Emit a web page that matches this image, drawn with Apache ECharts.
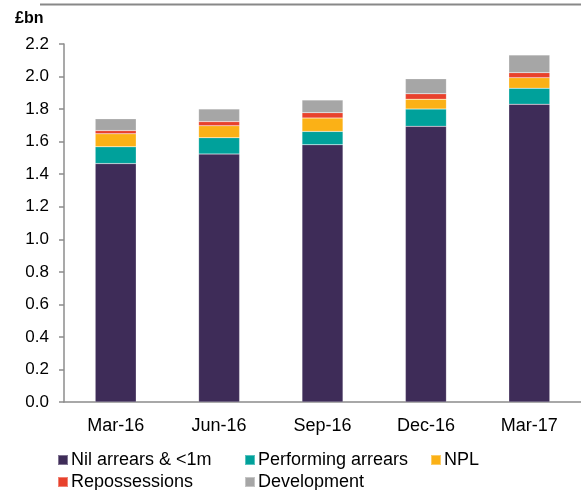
<!DOCTYPE html>
<html>
<head>
<meta charset="utf-8">
<script src="https://cdn.jsdelivr.net/npm/echarts@6/dist/echarts.min.js"></script>
<style>
  html, body { margin: 0; padding: 0; background: #fff; }
  #chart { width: 581px; height: 490px; }
</style>
</head>
<body>
<div id="chart"></div>
<script>
// Quarter-end dates
const categories = ['Mar-16', 'Jun-16', 'Sep-16', 'Dec-16', 'Mar-17'];

// Loan book by arrears status, £bn
const nilArrears   = [1.465, 1.524, 1.581, 1.694, 1.830];
const performing   = [0.103, 0.100, 0.082, 0.106, 0.098];
const npl          = [0.080, 0.074, 0.082, 0.061, 0.065];
const repossession = [0.020, 0.025, 0.033, 0.033, 0.031];
const development  = [0.072, 0.078, 0.078, 0.092, 0.109];

const yTicks = [0, 0.2, 0.4, 0.6, 0.8, 1.0, 1.2, 1.4, 1.6, 1.8, 2.0, 2.2];

const seriesDefs = [
  { name: 'Nil arrears & <1m', data: nilArrears, color: '#3e2c58' },
  { name: 'Performing arrears', data: performing, color: '#00a19b' },
  { name: 'NPL', data: npl, color: '#fbb116' },
  { name: 'Repossessions', data: repossession, color: '#e8412c' },
  { name: 'Development', data: development, color: '#a6a6a6' }
];

// Legend laid out as a two-row grid: [left, top] per entry
const legendSlots = [[57, 450], [244, 450], [430, 450], [57, 472], [244, 472]];

const font = 'Arial, "Liberation Sans", sans-serif';
const axisGrey = '#8c8c8c';

const chart = echarts.init(document.getElementById('chart'), null, { renderer: 'canvas' });

chart.setOption({
  animation: false,
  backgroundColor: '#fff',
  textStyle: { fontFamily: font, color: '#000' },
  grid: { left: 64, right: -7, top: 44, bottom: 88, containLabel: false },
  title: {
    text: '£bn',
    left: 10, top: 6,
    textStyle: { fontFamily: font, fontSize: 16, fontWeight: 'bold', color: '#000' }
  },
  graphic: [{
    type: 'line',
    shape: { x1: 40, y1: 4.5, x2: 581, y2: 4.5 },
    style: { stroke: '#888', lineWidth: 2 }
  }],
  legend: seriesDefs.map((s, i) => ({
    left: legendSlots[i][0], top: legendSlots[i][1],
    padding: 0,
    itemWidth: 10, itemHeight: 10,
    icon: 'rect',
    selectedMode: false,
    textStyle: { fontFamily: font, fontSize: 18, lineHeight: 20, color: '#000', padding: [0, 0, 0, -2] },
    data: [s.name]
  })),
  xAxis: {
    type: 'category',
    data: categories,
    axisLine: { lineStyle: { color: axisGrey, width: 1.5 } },
    axisTick: { show: false },
    axisLabel: { fontFamily: font, fontSize: 18, color: '#000', margin: 15 }
  },
  yAxis: {
    type: 'value',
    min: 0, max: yTicks[yTicks.length - 1], interval: 0.2,
    splitLine: { show: false },
    axisLine: { show: true, lineStyle: { color: axisGrey, width: 1.5 } },
    axisTick: { show: true, length: 5, lineStyle: { color: axisGrey, width: 1.5 } },
    axisLabel: { fontFamily: font, fontSize: 17, color: '#000', margin: 15,
      formatter: v => v.toFixed(1) }
  },
  series: seriesDefs.map(s => ({
    name: s.name,
    type: 'bar',
    stack: 'total',
    barWidth: 41,
    data: s.data,
    itemStyle: { color: s.color, borderColor: 'rgba(255,255,255,0.35)', borderWidth: 0.5 }
  }))
});
</script>
</body>
</html>
